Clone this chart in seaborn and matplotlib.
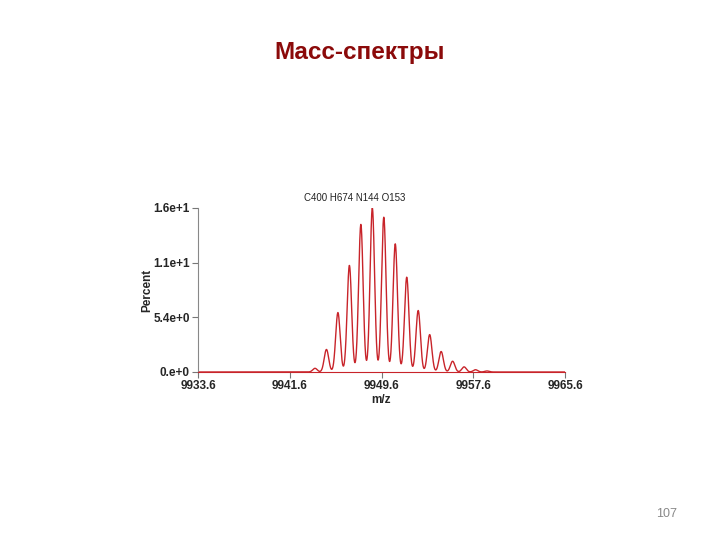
import numpy as np
import pandas as pd
import matplotlib
matplotlib.use("Agg")
import matplotlib.pyplot as plt
import seaborn as sns

# Isotope peak centres (m/z) and heights (percent)
peak_mz = [9943.8, 9944.8, 9945.8, 9946.8, 9947.8, 9948.8, 9949.8, 9950.8,
           9951.8, 9952.8, 9953.8, 9954.8, 9955.8, 9956.8, 9957.8, 9958.8]
peak_pct = [0.36, 2.2, 5.8, 10.4, 14.4, 16.0, 15.1, 12.5,
            9.25, 6.0, 3.65, 2.0, 1.05, 0.5, 0.22, 0.1]
peak_sigma = 0.195

x_ticks = [9933.6, 9941.6, 9949.6, 9957.6, 9965.6]
x_labels = ["9933.6", "9941.6", "9949.6", "9957.6", "9965.6"]
y_ticks = [0, 16 / 3, 32 / 3, 16]
y_labels = ["0.e+0", "5.4e+0", "1.1e+1", "1.6e+1"]

# profile spectrum built from the peak list (Gaussian peak shape)
mz = np.linspace(9933.6, 9965.6, 4000)
inten = np.zeros_like(mz)
for c, h in zip(peak_mz, peak_pct):
    inten += h * np.exp(-0.5 * ((mz - c) / peak_sigma) ** 2)
df = pd.DataFrame({"m/z": mz, "Percent": inten})

sns.set_style("white")
plt.rcParams["font.family"] = ["Liberation Sans", "DejaVu Sans"]

fig = plt.figure(figsize=(7.2, 5.4), dpi=100)
ax = fig.add_axes([198 / 720, 1 - 372 / 540, 367 / 720, 164 / 540])

sns.lineplot(data=df, x="m/z", y="Percent", ax=ax, color="#c8242a",
             linewidth=1.0, estimator=None, sort=False)

ax.set_xlim(9933.6, 9965.6)
ax.set_ylim(0, 16)
ax.set_xticks(x_ticks)
ax.set_xticklabels(x_labels, fontsize=8.5, fontweight="bold")
ax.set_yticks(y_ticks)
ax.set_yticklabels(y_labels, fontsize=8.5, fontweight="bold")
ax.tick_params(axis="both", direction="out", length=4, width=0.8,
               color="#777777", pad=2, bottom=True, left=True)
for s in ["top", "right"]:
    ax.spines[s].set_visible(False)
for s in ["left", "bottom"]:
    ax.spines[s].set_color("#888888")
    ax.spines[s].set_linewidth(0.8)
ax.spines["bottom"].set_color("#c8242a")
ax.set_xlabel("m/z", fontsize=8.5, fontweight="bold", labelpad=1)
ax.set_ylabel("Percent", fontsize=8.5, fontweight="bold", labelpad=0)
ax.set_facecolor("white")

fig.text(355 / 720, 1 - 198 / 540, "C400 H674 N144 O153", fontsize=7,
         ha="center", va="center", color="#222222")

fig.text(360 / 720, 1 - 52 / 540, "Масс-спектры", fontsize=17.5,
         fontweight="bold", color="#8b0a0a", ha="center", va="center")
fig.text(667 / 720, 1 - 514 / 540, "107", fontsize=9, color="#888888",
         ha="center", va="center")

fig.savefig("out.png", dpi=100, facecolor="white")
